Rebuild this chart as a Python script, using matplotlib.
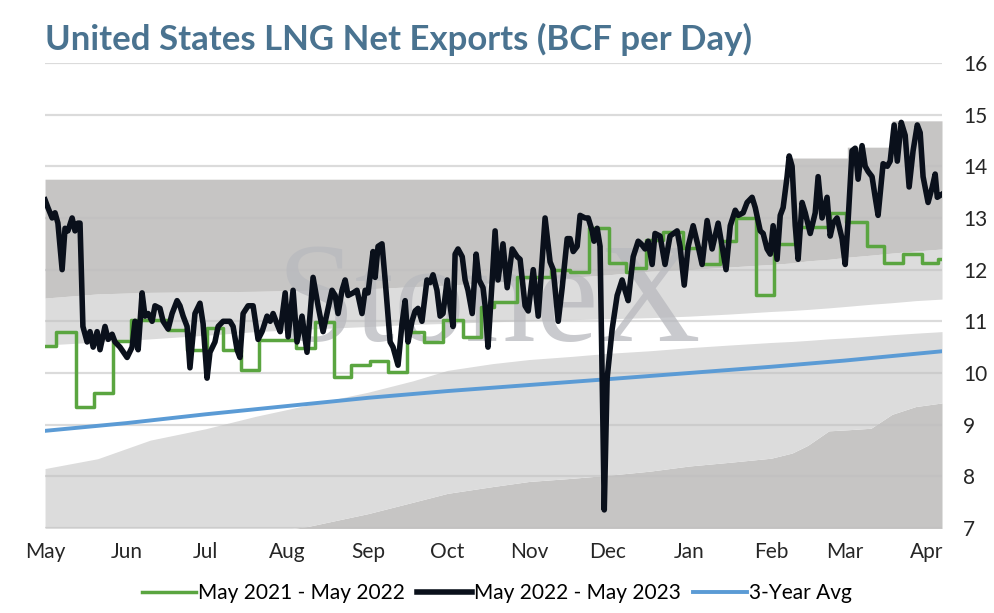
import numpy as np
import matplotlib
matplotlib.use("Agg")
import matplotlib.pyplot as plt

plt.rcParams['font.family'] = ['Lato', 'DejaVu Sans']

# x axis is days from May 1 (2022)
month_days = [0, 31, 61, 92, 123, 153, 184, 214, 245, 276, 304, 335]
month_labels = ['May', 'Jun', 'Jul', 'Aug', 'Sep', 'Oct', 'Nov', 'Dec', 'Jan', 'Feb', 'Mar', 'Apr']

# May 2022 - May 2023 (black)
cur_days = [0, 1.1, 2.7, 3.8, 4.9, 6.5, 7.6, 8.7, 10.3, 11.4, 12.5, 13.3, 14.4, 16.0, 17.1,
            18.3, 19.8, 20.9, 22.8, 24.0, 25.5, 26.6, 28.5, 31.2, 33.1, 34.2, 35.4, 36.9,
            38.0, 39.2, 40.7, 41.8, 43.7, 44.9, 46.8, 48.3, 50.2, 51.3, 52.5, 54.0, 55.1,
            57.0, 58.9, 60.1, 61.6, 62.7, 64.6, 65.8, 67.7, 70.3, 71.5, 73.0, 74.1, 75.3,
            77.2, 79.1, 81.0, 82.5, 84.4, 85.6, 86.7, 88.2, 89.4, 91.3, 92.4, 94.3, 95.8,
            97.7, 99.6, 101.5, 101.9, 103.8, 105.7, 107.2, 109.1, 110.3, 111.4, 112.9, 114.1,
            115.2, 117.1, 118.6, 120.5, 121.7, 122.8, 124.7, 125.5, 126.6, 128.1, 129.3,
            131.2, 132.3, 134.2, 135.7, 136.9, 138.0, 139.5, 140.7, 141.8, 143.3, 145.2,
            146.4, 147.5, 149.0, 150.2, 151.3, 152.9, 154.0, 155.1, 155.9, 157.0, 158.6,
            159.7, 160.8, 162.4, 163.9, 165.0, 166.5, 167.3, 168.4, 170.0, 171.1, 172.2,
            174.1, 175.7, 177.6, 179.5, 180.6, 182.5, 183.7, 185.6, 187.5, 190.1, 192.0,
            193.2, 195.1, 196.6, 198.5, 199.6, 200.8, 202.3, 203.4, 205.3, 206.5, 208.0,
            208.7, 209.9, 211.0, 212.6, 213.7, 215.6, 217.5, 219.4, 220.5, 221.7, 223.6,
            225.5, 226.6, 228.1, 229.3, 230.8, 231.9, 233.8, 235.7, 237.6, 240.3, 241.4,
            243.0, 244.5, 246.4, 248.3, 249.8, 251.7, 253.6, 255.9, 257.4, 258.9, 260.5,
            262.4, 263.5, 265.4, 266.9, 268.8, 270.0, 271.9, 273.0, 274.5, 275.7, 276.8,
            278.3, 279.5, 280.6, 282.1, 282.9, 284.0, 285.2, 286.3, 287.8, 289.0, 290.9,
            292.8, 293.9, 295.4, 297.3, 298.5, 299.6, 301.1, 303.0, 304.2, 305.3, 306.8,
            308.0, 309.1, 310.6, 311.8, 312.9, 314.4, 315.6, 316.7, 318.6, 320.2, 321.3,
            322.8, 324.0, 325.5, 327.0, 328.5, 330.0, 331.6, 332.7, 333.8, 335.7, 337.3,
            338.4, 339.2, 340.7]
cur_vals = [13.35, 13.2, 13.0, 13.1, 12.9, 12.0, 12.8, 12.75, 13.0, 12.75, 12.9, 12.9, 10.9,
            10.6, 10.8, 10.5, 10.8, 10.45, 10.9, 10.65, 10.75, 10.6, 10.5, 10.3, 10.5, 11.0,
            10.45, 11.55, 11.1, 11.15, 11.0, 11.3, 11.25, 11.0, 10.85, 11.15, 11.4, 11.3,
            11.1, 10.9, 10.1, 11.15, 11.35, 10.95, 9.9, 10.4, 10.6, 10.9, 11.0, 11.0, 10.9,
            10.45, 10.3, 11.15, 11.3, 11.3, 10.65, 10.8, 11.1, 11.0, 11.15, 10.95, 10.8,
            11.55, 10.7, 11.6, 10.6, 11.1, 10.4, 11.6, 11.85, 11.3, 10.8, 11.15, 11.6, 11.5,
            11.15, 11.6, 11.8, 11.5, 11.55, 11.6, 11.15, 11.6, 11.55, 12.35, 11.85, 12.45,
            12.5, 11.8, 10.6, 10.5, 10.15, 10.95, 11.4, 10.6, 11.0, 11.2, 11.25, 11.0, 11.8,
            11.75, 11.9, 11.6, 11.1, 11.15, 11.8, 11.3, 10.9, 12.3, 12.4, 12.25, 11.8, 11.6,
            11.15, 12.3, 11.8, 11.65, 11.3, 10.5, 11.8, 12.75, 11.8, 12.5, 11.65, 12.4,
            12.25, 12.2, 11.3, 11.2, 12.0, 11.1, 13.0, 12.15, 12.0, 11.0, 11.65, 12.6, 12.6,
            12.35, 12.45, 13.05, 13.0, 13.0, 12.75, 12.55, 12.8, 12.45, 7.35, 9.9, 10.85,
            11.5, 11.8, 11.6, 11.4, 12.25, 12.55, 12.5, 12.4, 12.55, 12.1, 12.7, 12.65, 12.1,
            12.65, 12.75, 12.45, 11.7, 12.45, 12.85, 12.45, 12.1, 12.95, 12.4, 12.9, 12.45,
            12.0, 12.85, 13.15, 13.05, 13.1, 13.3, 13.4, 13.2, 12.75, 12.7, 12.4, 12.3, 12.85,
            12.2, 13.05, 13.2, 13.8, 14.2, 14.0, 12.85, 12.2, 13.3, 13.1, 12.7, 13.1, 13.8,
            13.0, 13.4, 12.65, 12.9, 13.0, 12.6, 12.1, 12.95, 14.3, 14.35, 13.75, 14.4, 14.0,
            13.9, 13.8, 13.4, 13.05, 14.05, 14.0, 14.1, 14.8, 14.1, 14.85, 14.6, 13.6, 14.3,
            14.8, 14.65, 13.8, 13.3, 13.6, 13.85, 13.4, 13.45]

# May 2021 - May 2022 (green, weekly steps)
prev_days = [0, 4.2, 11.8, 18.6, 25.9, 32.7, 46.8, 54.0, 61.6, 67.7, 74.5, 81.4, 95.4, 102.7,
             109.9, 116.3, 123.6, 130.4, 137.6, 144.1, 151.3, 158.9, 165.8, 170.7, 179.5,
             192.4, 199.6, 206.8, 214.4, 220.9, 222.8, 228.5, 235.0, 242.6, 249.8, 256.7,
             262.7, 270.3, 277.2, 285.2, 298.5, 304.6, 312.5, 319.0, 326.2, 333.5, 339.5, 341]
prev_vals = [10.52, 10.8, 9.35, 9.62, 10.62, 11.03, 10.83, 10.45, 10.87, 10.45, 10.05, 10.64,
             10.48, 10.99, 9.92, 10.15, 10.23, 10.02, 10.8, 10.6, 11.03, 10.7, 11.28, 11.38,
             11.86, 12.0, 11.95, 12.8, 12.13, 11.95, 12.03, 12.57, 12.73, 12.42, 12.1, 12.55,
             13.0, 11.5, 12.5, 12.83, 13.1, 12.93, 12.45, 12.13, 12.3, 12.13, 12.2, 12.2]

# 3-year average (blue)
avg_days = [0, 31, 61, 92, 123, 153, 214, 245, 276, 304, 341]
avg_vals = [8.88, 9.03, 9.2, 9.36, 9.52, 9.65, 9.88, 10.0, 10.12, 10.24, 10.42]

# shaded range bands
band_days = [0, 20, 40, 61, 80, 100, 123, 140, 153, 170, 184, 200, 214, 230, 245, 260, 276,
             284, 284, 290, 298, 305, 305, 314, 322, 322, 331, 341]
band_a = [6.0, 6.2, 6.45, 6.7, 6.9, 7.03, 7.28, 7.5, 7.67, 7.8, 7.9, 7.96, 8.02, 8.1, 8.2,
          8.27, 8.35, 8.45, 8.45, 8.6, 8.88, 8.9, 8.9, 8.93, 9.2, 9.2, 9.35, 9.42]
band_b = [8.15, 8.34, 8.7, 8.92, 9.16, 9.38, 9.63, 9.85, 10.05, 10.18, 10.26, 10.32, 10.38,
          10.43, 10.49, 10.54, 10.59, 10.61, 10.61, 10.63, 10.66, 10.68, 10.68, 10.71, 10.74,
          10.74, 10.77, 10.8]
band_c = [10.54, 10.6, 10.66, 10.73, 10.8, 10.85, 10.9, 10.94, 10.96, 10.99, 11.01, 11.03,
          11.05, 11.07, 11.1, 11.14, 11.19, 11.21, 11.21, 11.23, 11.26, 11.29, 11.29, 11.33,
          11.36, 11.36, 11.4, 11.43]
band_d = [11.45, 11.53, 11.56, 11.57, 11.58, 11.6, 11.63, 11.67, 11.7, 11.75, 11.8, 11.85,
          11.9, 11.97, 12.0, 12.05, 12.1, 12.13, 12.13, 12.17, 12.2, 12.24, 12.24, 12.28,
          12.32, 12.32, 12.36, 12.4]
band_e = [13.75, 13.75, 13.75, 13.75, 13.75, 13.75, 13.75, 13.75, 13.75, 13.75, 13.75, 13.75,
          13.75, 13.75, 13.75, 13.75, 13.75, 13.75, 14.16, 14.16, 14.16, 14.16, 14.37, 14.37,
          14.37, 14.88, 14.88, 14.88]

dark = '#c6c5c4'
light = '#dcdcdc'

fig = plt.figure(figsize=(9.94, 6.13), dpi=100)
ax = fig.add_axes([0.0453, 0.1387, 0.9024, 0.7586])

ax.fill_between(band_days, 6.0, band_a, color=dark, lw=0, zorder=1)
ax.fill_between(band_days, band_a, band_b, color=light, lw=0, zorder=1)
ax.fill_between(band_days, band_c, band_d, color=light, lw=0, zorder=1)
ax.fill_between(band_days, band_d, band_e, color=dark, lw=0, zorder=1)

for v in range(7, 17):
    ax.axhline(v, color='#bfbfbf', alpha=0.55, lw=1.6, zorder=2)

ax.text(88, 10.62, 'StoneX', family=['Liberation Serif', 'DejaVu Serif'], fontsize=102,
        color='#b8b9be', alpha=0.75, ha='left', va='baseline', zorder=3)

ax.plot(avg_days, avg_vals, color='#5b9bd5', lw=2.8, zorder=4, label='3-Year Avg')
ax.plot(prev_days, prev_vals, color='#5aa540', lw=2.5, drawstyle='steps-post', zorder=5,
        label='May 2021 - May 2022')
ax.plot(cur_days, cur_vals, color='#0a101b', lw=4.0, zorder=6, solid_joinstyle='round',
        label='May 2022 - May 2023')

ax.set_xlim(0, 341)
ax.set_ylim(7, 16)
ax.set_xticks(month_days)
ax.set_xticklabels(month_labels)
ax.set_yticks(range(7, 17))
ax.yaxis.tick_right()
ax.tick_params(axis='both', length=0, labelsize=15, colors='#262626')
ax.tick_params(axis='y', pad=15)
ax.tick_params(axis='x', pad=10)
for s in ax.spines.values():
    s.set_visible(False)

fig.text(0.0453, 0.935, 'United States LNG Net Exports (BCF per Day)', fontsize=25,
         fontweight='bold', color='#4a7390', ha='left', va='center')

handles, labels = ax.get_legend_handles_labels()
order = [1, 2, 0]
fig.legend([handles[i] for i in order], [labels[i] for i in order], loc='center',
           bbox_to_anchor=(0.5, 0.032), ncol=3, frameon=False, fontsize=15,
           handlelength=2.6, handletextpad=0.1, columnspacing=0.6)

plt.savefig('out.png', dpi=100)
plt.close('all')
